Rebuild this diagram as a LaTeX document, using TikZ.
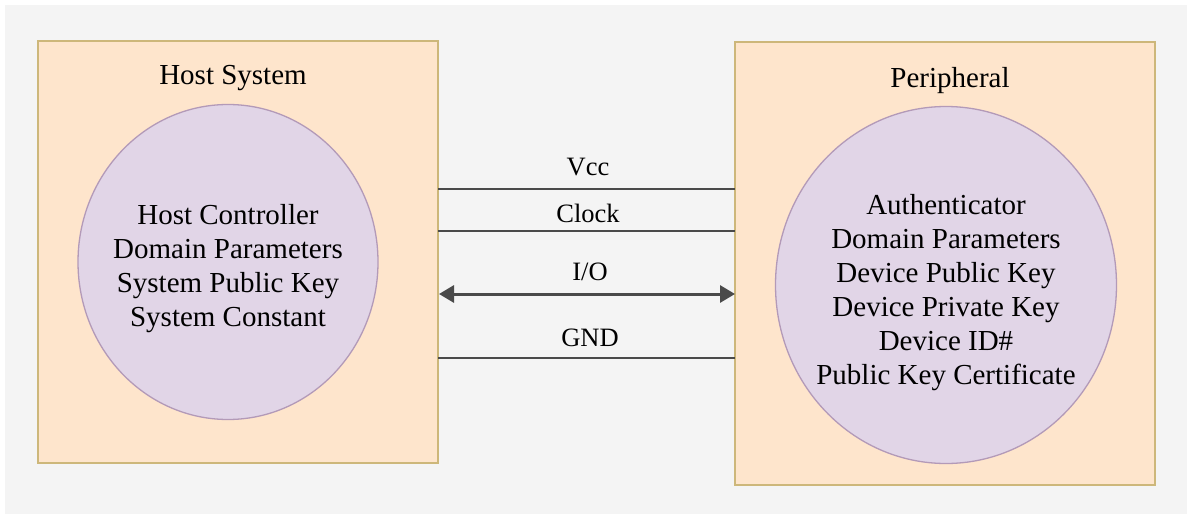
\documentclass[tikz,border=0pt]{standalone}
\usepackage{fontspec}
\setmainfont{Liberation Serif}
\usetikzlibrary{arrows.meta,shapes.geometric}
\definecolor{bg}{HTML}{F4F4F4}
\definecolor{boxfill}{HTML}{FEE5CC}
\definecolor{boxdraw}{HTML}{CDB77A}
\definecolor{ellfill}{HTML}{E1D5E7}
\definecolor{elldraw}{HTML}{B39AB8}
\definecolor{wire}{HTML}{4A4A4A}
\tikzset{
  sysbox/.style={draw=boxdraw, fill=boxfill, line width=2pt},
  core/.style={ellipse, draw=elldraw, fill=ellfill, line width=1.3pt, inner sep=0pt},
  coretext/.style={align=center, inner sep=0pt, font=\fontsize{29}{34}\selectfont},
  title/.style={font=\fontsize{29}{34}\selectfont, inner sep=0pt},
  wlabel/.style={font=\fontsize{26.5}{30}\selectfont, inner sep=0pt},
  wireline/.style={draw=wire, line width=2.2pt},
  iowire/.style={draw=wire, line width=3pt, {Triangle[length=15pt,width=17pt]}-{Triangle[length=15pt,width=17pt]}}
}
\begin{document}
\begin{tikzpicture}[x=1pt,y=-1pt]
\useasboundingbox (0,0) rectangle (1187,514);
\fill[white] (-5,-5) rectangle (1192,519);
\fill[bg] (5,5) rectangle (1192,519);
% boxes
\draw[sysbox] (38,41) rectangle (438,463);
\draw[sysbox] (735,42) rectangle (1155,485);
\node[title] (hosttitle) at (233,78) {Host System};
\node[title] (pertitle) at (950,81) {Peripheral};
\node[core, minimum width=300pt, minimum height=315pt] (host) at (228,262) {};
\node[coretext] (hosttext) at (228,269)
  {Host Controller\\Domain Parameters\\System Public Key\\System Constant};
\node[core, minimum width=341pt, minimum height=357pt] (per) at (946,285) {};
\node[coretext] (pertext) at (946,293)
  {Authenticator\\Domain Parameters\\Device Public Key\\Device Private Key\\Device ID\#\\Public Key Certificate};
% wires
\coordinate (vccA) at (438,189); \coordinate (vccB) at (735,189);
\coordinate (clkA) at (438,231); \coordinate (clkB) at (735,231);
\coordinate (ioA) at (439,294); \coordinate (ioB) at (735,294);
\coordinate (gndA) at (438,358); \coordinate (gndB) at (735,358);
\draw[wireline] (vccA) -- (vccB);
\draw[wireline] (clkA) -- (clkB);
\draw[iowire] (ioA) -- (ioB);
\draw[wireline] (gndA) -- (gndB);
\node[wlabel] (vcc) at (588,167) {Vcc};
\node[wlabel] (clk) at (588,213) {Clock};
\node[wlabel] (io) at (590,272) {I/O};
\node[wlabel] (gnd) at (590,338) {GND};
\end{tikzpicture}
\end{document}
